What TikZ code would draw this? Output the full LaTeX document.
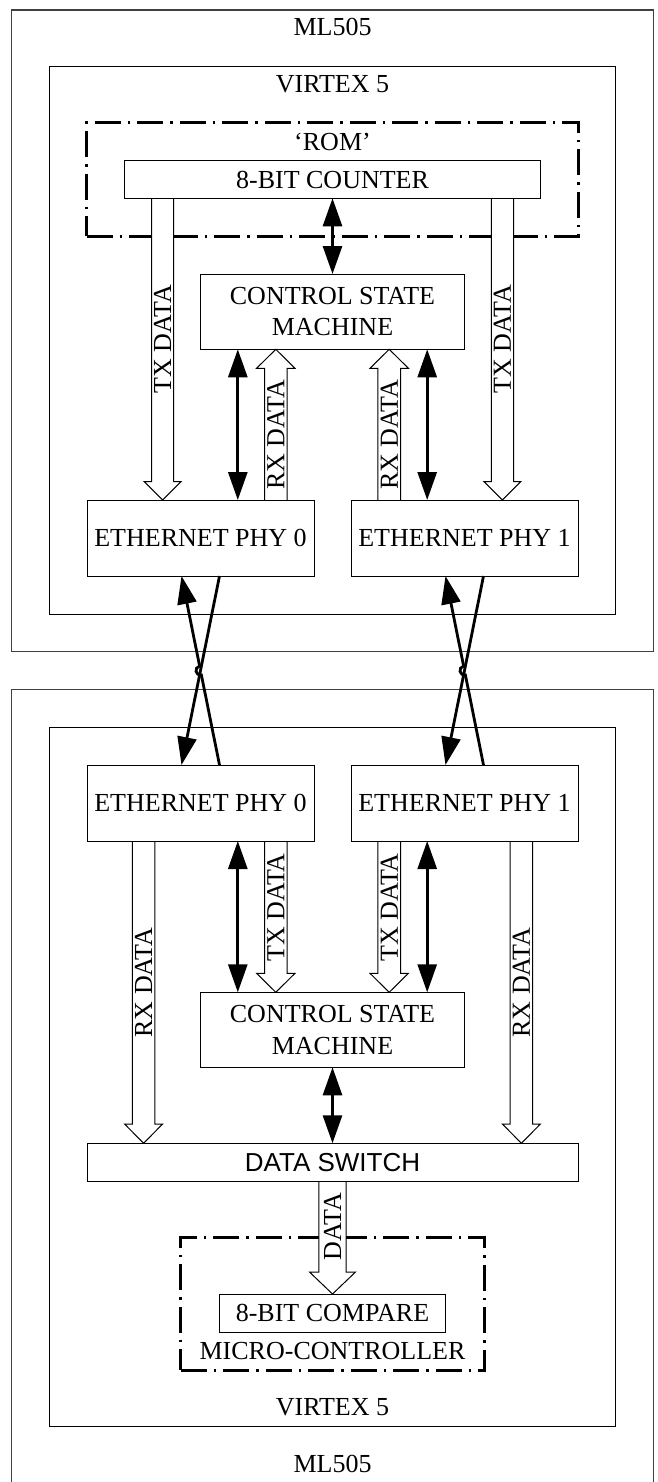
\documentclass[tikz,border=0pt]{standalone}
\usepackage{fontspec}
\setmainfont{Liberation Serif}
\newfontfamily\sansfnt{Liberation Sans}
\usetikzlibrary{arrows.meta,calc}
\pgfdeclarelayer{background}
\pgfsetlayers{background,main}
% hollow block arrow: from, to, half shaft, half head, vector from tip to head base
\newcommand\harrow[5]{%
  \draw[hollow] ($(#1)+(-#3,0)$) -- ($(#2)+(-#3,0)+(#5)$) -- ($(#2)+(-#4,0)+(#5)$) -- (#2)
     -- ($(#2)+(#4,0)+(#5)$) -- ($(#2)+(#3,0)+(#5)$) -- ($(#1)+(#3,0)$);}
\begin{document}
\begin{tikzpicture}[x=1pt,y=-1pt,
  every node/.style={inner sep=0pt,outer sep=0pt},
  txt/.style={font=\fontsize{26}{31.5}\selectfont},
  box/.style={draw,line width=1pt,txt,align=center},
  frame/.style={draw=black!75,line width=1.3pt},
  iframe/.style={draw,line width=1pt},
  dashbox/.style={draw,line width=3pt,dash pattern=on 26pt off 7pt on 2.5pt off 7pt},
  hollow/.style={draw,fill=white,line width=1pt,line join=miter},
  bus/.style={line width=2.8pt},
  >={Triangle[length=28pt,width=19pt]}]
\useasboundingbox (0,0) rectangle (657,1482);

% ---------- column coordinates ----------
\coordinate (xtxL) at (162.6,0);
\coordinate (xtxR) at (502.4,0);
\coordinate (xrxL) at (275.8,0);
\coordinate (xrxR) at (389.2,0);
\coordinate (xdL) at (237.8,0);
\coordinate (xdR) at (427.2,0);
\coordinate (xrbL) at (143.6,0);
\coordinate (xrbR) at (521.4,0);
\coordinate (xmid) at (332.5,0);
\coordinate (xcLa) at (181.5,0);
\coordinate (xcLb) at (219.5,0);
\coordinate (xcRa) at (445.5,0);
\coordinate (xcRb) at (483.5,0);

% ---------- upper board ----------
\node[frame,minimum width=641.6pt,minimum height=641.7pt] (mlA) at (332.5,330.85) {};
\node[iframe,minimum width=566.6pt,minimum height=547.3pt] (vxA) at (332.5,340.35) {};
\node[txt] (mlAl) at (332.5,27.2) {ML505};
\node[txt] (vxAl) at (332.5,84.5) {VIRTEX 5};
\node[txt] (roml) at (332.5,142) {‘ROM’};
\node[box,minimum width=415.3pt,minimum height=37.3pt] (counter) at (332.5,179.65) {8-BIT COUNTER};
\node[box,minimum width=264.6pt,minimum height=75.3pt] (csmA) at (332.5,311.65) {CONTROL STATE\\MACHINE};
\node[box,minimum width=227pt,minimum height=76pt] (phy0a) at (200.5,538) {ETHERNET PHY 0};
\node[box,minimum width=227pt,minimum height=76pt] (phy1a) at (464.5,538) {ETHERNET PHY 1};

% ---------- lower board ----------
\node[frame,minimum width=641.6pt,minimum height=805.7pt] (mlB) at (332.5,1092.15) {};
\node[iframe,minimum width=566.6pt,minimum height=698.7pt] (vxB) at (332.5,1076.65) {};
\node[box,minimum width=227pt,minimum height=76pt] (phy0b) at (200.5,803) {ETHERNET PHY 0};
\node[box,minimum width=227pt,minimum height=76pt] (phy1b) at (464.5,803) {ETHERNET PHY 1};
\node[box,minimum width=264.6pt,minimum height=75pt] (csmB) at (332.5,1029.8) {CONTROL STATE\\MACHINE};
\node[box,minimum width=491pt,minimum height=37.7pt,font=\sansfnt\fontsize{26}{31.5}\selectfont] (switch) at (332.5,1162.15) {DATA SWITCH};
\node[box,minimum width=226.9pt,minimum height=38.3pt] (compare) at (332.5,1313.15) {8-BIT COMPARE};
\node[txt] (microl) at (332.5,1350.7) {MICRO-CONTROLLER};
\node[txt] (vxBl) at (332.5,1406.7) {VIRTEX 5};
\node[txt] (mlBl) at (332.5,1464) {ML505};

% ---------- dashed groups and hollow bus arrows (behind) ----------
\begin{pgfonlayer}{background}
\node[dashbox,minimum width=491.9pt,minimum height=113pt] (rom) at (332.5,179.5) {};
\node[dashbox,minimum width=303.1pt,minimum height=132.3pt] (micro) at (332.5,1303.85) {};
% upper
\coordinate (a1s) at (counter.south -| xtxL); \coordinate (a1e) at (phy0a.north -| xtxL);
\coordinate (a2s) at (counter.south -| xtxR); \coordinate (a2e) at (phy1a.north -| xtxR);
\coordinate (a3s) at (phy0a.north -| xrxL);   \coordinate (a3e) at (csmA.south -| xrxL);
\coordinate (a4s) at (phy1a.north -| xrxR);   \coordinate (a4e) at (csmA.south -| xrxR);
\harrow{a1s}{a1e}{11.1}{18.5}{0,-18.5}
\harrow{a2s}{a2e}{11.1}{18.5}{0,-18.5}
\harrow{a3s}{a3e}{11.3}{19.2}{0,19}
\harrow{a4s}{a4e}{11.3}{19.2}{0,19}
% lower
\coordinate (b1s) at (phy0b.south -| xrxL); \coordinate (b1e) at (csmB.north -| xrxL);
\coordinate (b2s) at (phy1b.south -| xrxR); \coordinate (b2e) at (csmB.north -| xrxR);
\coordinate (b3s) at (phy0b.south -| xrbL); \coordinate (b3e) at (switch.north -| xrbL);
\coordinate (b4s) at (phy1b.south -| xrbR); \coordinate (b4e) at (switch.north -| xrbR);
\harrow{b1s}{b1e}{11.3}{19.2}{0,-19}
\harrow{b2s}{b2e}{11.3}{19.2}{0,-19}
\harrow{b3s}{b3e}{11.3}{19}{0,-19.3}
\harrow{b4s}{b4e}{11.3}{19}{0,-19.3}
\harrow{switch.south}{compare.north}{13.6}{23}{0,-22}
\end{pgfonlayer}

% ---------- bus labels ----------
\node[txt,rotate=90] (lA1) at (162.6,339) {TX DATA};
\node[txt,rotate=90] (lA2) at (502.4,339) {TX DATA};
\node[txt,rotate=90] (lA3) at (275.8,435) {RX DATA};
\node[txt,rotate=90] (lA4) at (389.2,435) {RX DATA};
\node[txt,rotate=90] (lB1) at (275.8,907.5) {TX DATA};
\node[txt,rotate=90] (lB2) at (389.2,907.5) {TX DATA};
\node[txt,rotate=90] (lB3) at (143.6,982.5) {RX DATA};
\node[txt,rotate=90] (lB4) at (521.4,982.5) {RX DATA};
\node[txt,rotate=90] (lB5) at (332.5,1226.7) {DATA};

% ---------- control arrows ----------
\draw[bus,<->] (counter.south) -- (csmA.north);
\draw[bus,<->] (csmA.south -| xdL) -- (phy0a.north -| xdL);
\draw[bus,<->] (csmA.south -| xdR) -- (phy1a.north -| xdR);
\draw[bus,<->] (phy0b.south -| xdL) -- (csmB.north -| xdL);
\draw[bus,<->] (phy1b.south -| xdR) -- (csmB.north -| xdR);
\draw[bus,<->] (csmB.south) -- (switch.north);

% ---------- crossed links between the boards ----------
\coordinate (la1) at (phy0b.north -| xcLb); \coordinate (la2) at (phy0a.south -| xcLa);
\coordinate (lb1) at (phy0a.south -| xcLb); \coordinate (lb2) at (phy0b.north -| xcLa);
\coordinate (ra1) at (phy1b.north -| xcRb); \coordinate (ra2) at (phy1a.south -| xcRa);
\coordinate (rb1) at (phy1a.south -| xcRb); \coordinate (rb2) at (phy1b.north -| xcRa);
\coordinate (cL) at ($(la1)!0.5!(la2)$);
\coordinate (cR) at ($(ra1)!0.5!(ra2)$);
\coordinate (hLs) at ($(cL)!4.5pt!(la1)$); \coordinate (hLe) at ($(cL)!4.5pt!(la2)$);
\coordinate (hRs) at ($(cR)!4.5pt!(ra1)$); \coordinate (hRe) at ($(cR)!4.5pt!(ra2)$);
\draw[bus,->] (lb1) -- (lb2);
\draw[bus,->] (rb1) -- (rb2);
\draw[bus,->] (la1) -- (hLs) .. controls ($(hLs)!6pt!90:(cL)$) and ($(hLe)!6pt!-90:(cL)$) .. (hLe) -- (la2);
\draw[bus,->] (ra1) -- (hRs) .. controls ($(hRs)!6pt!90:(cR)$) and ($(hRe)!6pt!-90:(cR)$) .. (hRe) -- (ra2);
\end{tikzpicture}
\end{document}
